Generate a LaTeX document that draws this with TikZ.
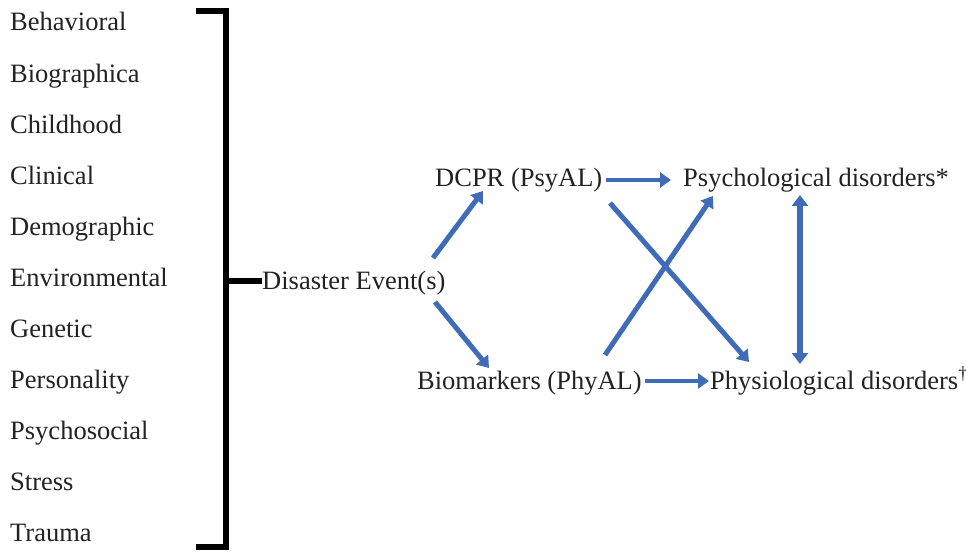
\documentclass[tikz,border=0pt]{standalone}
\usepackage{fontspec}
\setmainfont{Liberation Serif}
\usetikzlibrary{arrows.meta}
\definecolor{arrblue}{HTML}{3F6BB8}
\definecolor{txt}{HTML}{222222}
\tikzset{
  lbl/.style={anchor=base west, inner sep=0pt, font=\fontsize{26.5}{30}\selectfont, text=txt},
  brk/.style={line width=6pt, black},
  barrow/.style={line width=5pt, arrblue, -{Triangle[width=15pt,length=11pt]}},
  bdarrow/.style={line width=6pt, arrblue, {Triangle[width=16pt,length=11pt]}-{Triangle[width=16pt,length=11pt]}}
}
\begin{document}
\begin{tikzpicture}[x=1pt,y=-1pt]
\useasboundingbox (0,0) rectangle (966,553);
\fill[white] (0,0) rectangle (966,553);
% left list
\node[lbl] (l1) at (10,31) {Behavioral};
\node[lbl] (l2) at (10,83) {Biographica};
\node[lbl] (l3) at (10,134) {Childhood};
\node[lbl] (l4) at (10,185) {Clinical};
\node[lbl] (l5) at (10,236) {Demographic};
\node[lbl] (l6) at (10,287) {Environmental};
\node[lbl] (l7) at (10,337) {Genetic};
\node[lbl] (l8) at (10,388) {Personality};
\node[lbl] (l9) at (10,439) {Psychosocial};
\node[lbl] (l10) at (10,490) {Stress};
\node[lbl] (l11) at (10,541) {Trauma};
% bracket
\coordinate (bt) at (196,11);
\coordinate (bb) at (196,547);
\coordinate (bm) at (226,281);
\draw[brk, line cap=butt] (bt) -- (226,11) -- (226,547) -- (bb);
\node[lbl] (de) at (262,289) {Disaster Event(s)};
\draw[brk] (bm) -- (bm -| de.west);
% right nodes
\node[lbl] (dcpr) at (435,187) {DCPR (PsyAL)};
\node[lbl] (psy) at (683,187) {Psychological disorders*};
\node[lbl] (bio) at (417,389) {Biomarkers (PhyAL)};
\node[lbl] (phy) at (710,389) {Physiological disorders\textsuperscript{\dag}};
% arrows
\coordinate (a1s) at (433,258); \coordinate (a1e) at (483,191);
\coordinate (a2s) at (435,302); \coordinate (a2e) at (489,368);
\draw[barrow] (a1s) -- (a1e);
\draw[barrow] (a2s) -- (a2e);
\coordinate (h1s) at (606,180); \coordinate (h1e) at (671,180);
\coordinate (h2s) at (645,381); \coordinate (h2e) at (709,381);
\draw[barrow, line width=4pt] (h1s) -- (h1e);
\draw[barrow, line width=4pt] (h2s) -- (h2e);
\coordinate (c1s) at (610,203); \coordinate (c1e) at (749,362);
\coordinate (c2s) at (605,355); \coordinate (c2e) at (713,196);
\draw[barrow] (c1s) -- (c1e);
\draw[barrow] (c2s) -- (c2e);
\coordinate (vs) at (800,195); \coordinate (ve) at (800,364);
\draw[bdarrow] (vs) -- (ve);
\end{tikzpicture}
\end{document}
